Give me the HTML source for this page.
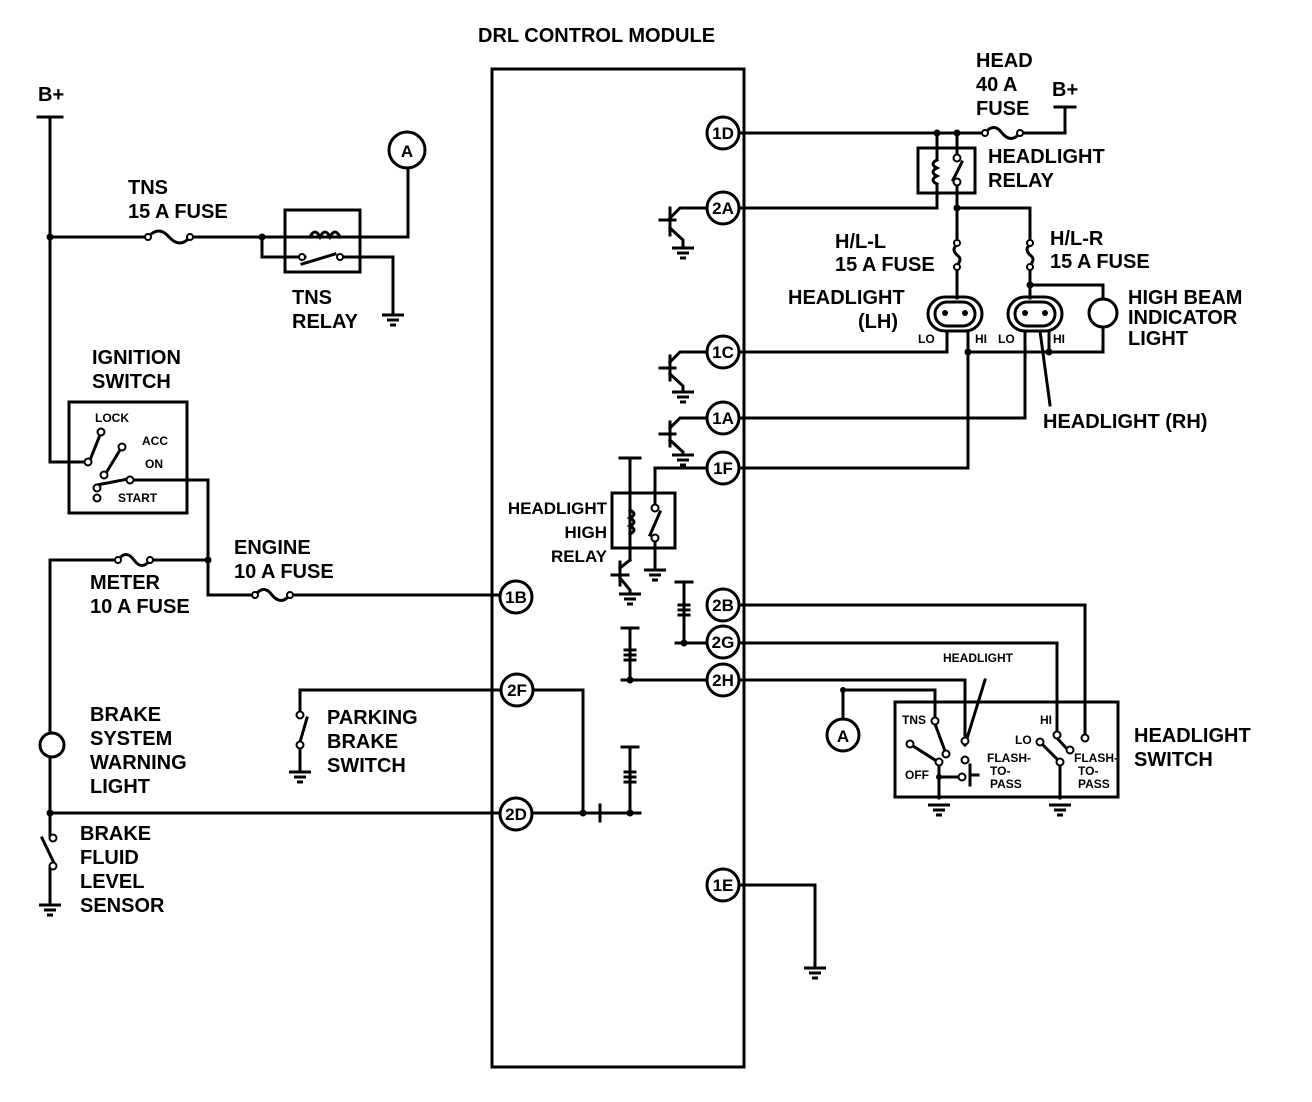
<!DOCTYPE html>
<html><head><meta charset="utf-8"><style>
html,body{margin:0;padding:0;background:#fff}
svg{display:block}
text{font-family:"Liberation Sans",sans-serif;font-weight:bold;fill:#000}
.t{font-size:20px}
.p{font-size:17px}
.s{font-size:12px}
</style></head><body>
<svg width="1312" height="1102" viewBox="0 0 1312 1102" xmlns="http://www.w3.org/2000/svg">
<defs>
<g id="gnd" stroke="#000" stroke-width="3" fill="none"><line x1="-11" y1="0" x2="11" y2="0"/><line x1="-6" y1="5" x2="6" y2="5"/><line x1="-3" y1="10" x2="3" y2="10"/></g>
</defs>
<g stroke="#000" stroke-width="3" fill="none" stroke-linecap="square">
<rect x="492" y="69" width="252" height="998"/>
<line x1="38" y1="117" x2="62" y2="117"/>
<polyline points="50,117 50,462 82,462"/>
<line x1="50" y1="237" x2="148" y2="237"/>
<path d="M148,237 Q159,225 169,237 Q180,249 190,237"/>
<polyline points="190,237 408,237 408,168"/>
<circle cx="407" cy="150" r="18"/>
<rect x="285" y="210" width="75" height="62"/>
<path d="M310,237 q5,-10 10,0 q5,-10 10,0 q5,-10 10,0"/>
<polyline points="262,237 262,257 305,257"/>
<line x1="302" y1="264" x2="335" y2="254"/>
<polyline points="340,257 393,257 393,315"/>
<rect x="69" y="402" width="118" height="111"/>
<line x1="90" y1="460" x2="100" y2="435"/>
<line x1="106" y1="473" x2="120" y2="450"/>
<line x1="97" y1="485" x2="128" y2="479"/>
<polyline points="132,480 208,480 208,595 255,595"/>
<path d="M255,595 Q264,584 272,595 Q281,606 290,595"/>
<line x1="290" y1="595" x2="500" y2="595"/>
<polyline points="208,560 150,560"/>
<path d="M118,560 Q126,549 134,560 Q142,571 150,560"/>
<polyline points="118,560 50,560 50,733"/>
<circle cx="52" cy="745" r="12"/>
<polyline points="50,757 50,835"/>
<line x1="42" y1="838" x2="55" y2="865"/>
<polyline points="53,868 50,868 50,905"/>
<line x1="50" y1="813" x2="500" y2="813"/>
<polyline points="502,690 300,690 300,715"/>
<line x1="307" y1="718" x2="300" y2="742"/>
<line x1="300" y1="745" x2="300" y2="772"/>
<polyline points="534,690 583,690 583,813"/>
<line x1="533" y1="813" x2="640" y2="813"/>
<line x1="600" y1="805" x2="600" y2="821"/>
<line x1="622" y1="747" x2="638" y2="747"/><line x1="630" y1="747" x2="630" y2="813"/>
<path d="M625,772 h10 M625,777 h10 M625,782 h10"/>
<line x1="622" y1="628" x2="638" y2="628"/><line x1="630" y1="628" x2="630" y2="680"/>
<path d="M625,650 h10 M625,655 h10 M625,660 h10"/>
<line x1="622" y1="680" x2="707" y2="680"/>
<line x1="676" y1="582" x2="692" y2="582"/><line x1="684" y1="582" x2="684" y2="643"/>
<path d="M679,605 h10 M679,610 h10 M679,615 h10"/>
<line x1="676" y1="643" x2="707" y2="643"/>
<line x1="620" y1="458" x2="640" y2="458"/>
<line x1="630" y1="458" x2="630" y2="560"/>
<path d="M630,510 q8,4 0,8 q8,4 0,8 q8,4 0,8"/>
<rect x="612" y="493" width="63" height="55"/>
<polyline points="707,468 655,468 655,505"/>
<line x1="660" y1="512" x2="650" y2="535"/>
<line x1="655" y1="538" x2="655" y2="570"/>
<line x1="630" y1="560" x2="620" y2="568"/>
<line x1="612" y1="575" x2="628" y2="575"/><line x1="620" y1="562" x2="620" y2="585"/>
<polyline points="620,578 630,590 630,594"/>
<polyline points="707,208 680,208 670,218"/><line x1="660" y1="220" x2="675" y2="220"/><line x1="670" y1="208" x2="670" y2="235"/><polyline points="670,228 683,240 683,248"/>
<polyline points="707,352 680,352 670,362"/><line x1="660" y1="368" x2="675" y2="368"/><line x1="670" y1="356" x2="670" y2="380"/><polyline points="670,374 683,386 683,392"/>
<polyline points="707,418 680,418 670,428"/><line x1="660" y1="434" x2="675" y2="434"/><line x1="670" y1="422" x2="670" y2="446"/><polyline points="670,440 683,452 683,455"/>
<line x1="742" y1="133" x2="985" y2="133"/>
<path d="M985,133 Q994,122 1002,133 Q1011,144 1020,133"/>
<polyline points="1020,133 1065,133 1065,107"/>
<line x1="1055" y1="107" x2="1075" y2="107"/>
<rect x="918" y="148" width="57" height="45"/>
<line x1="937" y1="133" x2="937" y2="158"/>
<path d="M937,160 q-8,4 0,8 q-8,4 0,8 q-8,4 0,8"/>
<polyline points="937,185 937,208 742,208"/>
<line x1="957" y1="133" x2="957" y2="155"/>
<line x1="962" y1="162" x2="953" y2="180"/>
<polyline points="957,183 957,240"/>
<polyline points="957,208 1030,208 1030,240"/>
<path d="M957,245 q-6,4 0,10 q6,4 0,10"/>
<path d="M1030,245 q-6,4 0,10 q6,4 0,10"/>
<line x1="957" y1="268" x2="957" y2="298"/>
<polyline points="1030,268 1030,285 1103,285 1103,298"/>
<line x1="1030" y1="285" x2="1030" y2="298"/>
<rect x="928" y="297" width="54" height="34" rx="17"/>
<rect x="935" y="302" width="40" height="24" rx="12"/>
<rect x="1008" y="297" width="54" height="34" rx="17"/>
<rect x="1015" y="302" width="40" height="24" rx="12"/>
<circle cx="1103" cy="313" r="14"/>
<polyline points="947,331 947,352 742,352"/>
<polyline points="1025,331 1025,418 742,418"/>
<polyline points="968,331 968,468 742,468"/>
<polyline points="968,352 1103,352 1103,327"/>
<line x1="1049" y1="331" x2="1049" y2="352"/>
<line x1="1040" y1="331" x2="1050" y2="405"/>
<polyline points="742,605 1085,605 1085,735"/>
<polyline points="742,643 1057,643 1057,735"/>
<polyline points="742,680 965,680 965,735"/>
<polyline points="843,717 843,690 935,690 935,718"/>
<circle cx="843" cy="735" r="16"/>
<rect x="895" y="702" width="223" height="95"/>
<line x1="910" y1="744" x2="935" y2="760"/>
<line x1="935" y1="724" x2="945" y2="751"/>
<polyline points="939,763 939,798"/>
<polyline points="939,777 962,777"/>
<line x1="970" y1="765" x2="970" y2="785"/>
<line x1="970" y1="775" x2="978" y2="775"/>
<line x1="965" y1="745" x2="985" y2="680"/>
<line x1="1040" y1="742" x2="1060" y2="762"/>
<line x1="1060" y1="765" x2="1060" y2="798"/>
<line x1="1057" y1="738" x2="1068" y2="750"/>
<polyline points="742,885 815,885 815,968"/>
</g>
<g fill="#fff" stroke="#000" stroke-width="2">
<circle cx="148" cy="237" r="3"/><circle cx="190" cy="237" r="3"/>
<circle cx="255" cy="595" r="3"/><circle cx="290" cy="595" r="3"/>
<circle cx="118" cy="560" r="3"/><circle cx="150" cy="560" r="3"/>
<circle cx="985" cy="133" r="3"/><circle cx="1020" cy="133" r="3"/>
<circle cx="302" cy="257" r="3"/><circle cx="340" cy="257" r="3"/>
<circle cx="88" cy="462" r="3.5"/><circle cx="101" cy="432" r="3.5"/>
<circle cx="104" cy="475" r="3.5"/><circle cx="122" cy="447" r="3.5"/>
<circle cx="97" cy="488" r="3.5"/><circle cx="130" cy="480" r="3.5"/><circle cx="97" cy="498" r="3.5"/>
<circle cx="300" cy="715" r="3.5"/><circle cx="300" cy="745" r="3.5"/>
<circle cx="53" cy="838" r="3.5"/><circle cx="53" cy="866" r="3.5"/>
<circle cx="655" cy="508" r="3.5"/><circle cx="655" cy="538" r="3.5"/>
<circle cx="957" cy="158" r="3.5"/><circle cx="957" cy="182" r="3.5"/>
<circle cx="935" cy="721" r="3.5"/><circle cx="910" cy="744" r="3.5"/><circle cx="939" cy="762" r="3.5"/><circle cx="946" cy="754" r="3.5"/>
<circle cx="965" cy="741" r="3.5"/><circle cx="965" cy="760" r="3.5"/><circle cx="962" cy="777" r="3.5"/>
<circle cx="1040" cy="742" r="3.5"/><circle cx="1060" cy="762" r="3.5"/><circle cx="1057" cy="735" r="3.5"/><circle cx="1070" cy="750" r="3.5"/><circle cx="1085" cy="738" r="3.5"/>
<circle cx="957" cy="243" r="3"/><circle cx="957" cy="267" r="3"/><circle cx="1030" cy="243" r="3"/><circle cx="1030" cy="267" r="3"/>
</g>
<g fill="#000">
<circle cx="50" cy="237" r="3.5"/><circle cx="262" cy="237" r="3.5"/><circle cx="208" cy="560" r="3.5"/>
<circle cx="50" cy="813" r="3.5"/><circle cx="583" cy="813" r="3.5"/><circle cx="630" cy="813" r="3.5"/>
<circle cx="630" cy="680" r="3.5"/><circle cx="684" cy="643" r="3.5"/>
<circle cx="937" cy="133" r="3.5"/><circle cx="957" cy="133" r="3.5"/><circle cx="957" cy="208" r="3.5"/>
<circle cx="1030" cy="285" r="3.5"/><circle cx="968" cy="352" r="3.5"/><circle cx="1049" cy="352" r="3.5"/>
<circle cx="843" cy="690" r="3"/><circle cx="939" cy="777" r="3"/>
<circle cx="945" cy="313" r="3"/><circle cx="965" cy="313" r="3"/><circle cx="1025" cy="313" r="3"/><circle cx="1045" cy="313" r="3"/>
</g>
<use href="#gnd" x="393" y="315"/><use href="#gnd" x="50" y="905"/><use href="#gnd" x="300" y="772"/>
<use href="#gnd" x="683" y="248"/><use href="#gnd" x="683" y="392"/><use href="#gnd" x="683" y="455"/>
<use href="#gnd" x="655" y="570"/><use href="#gnd" x="630" y="594"/>
<use href="#gnd" x="939" y="805"/><use href="#gnd" x="1060" y="805"/><use href="#gnd" x="815" y="968"/>
<g fill="#fff" stroke="#000" stroke-width="3">
<circle cx="723" cy="133" r="16"/><circle cx="723" cy="208" r="16"/><circle cx="723" cy="352" r="16"/>
<circle cx="723" cy="418" r="16"/><circle cx="723" cy="468" r="16"/><circle cx="723" cy="605" r="16"/>
<circle cx="723" cy="642" r="16"/><circle cx="723" cy="680" r="16"/><circle cx="723" cy="885" r="16"/>
<circle cx="516" cy="597" r="16"/><circle cx="517" cy="690" r="16"/><circle cx="516" cy="814" r="16"/>
</g>
<g class="p" text-anchor="middle">
<text x="723" y="139">1D</text><text x="723" y="214">2A</text><text x="723" y="358">1C</text>
<text x="723" y="424">1A</text><text x="723" y="474">1F</text><text x="723" y="611">2B</text>
<text x="723" y="648">2G</text><text x="723" y="686">2H</text><text x="723" y="891">1E</text>
<text x="516" y="603">1B</text><text x="517" y="696">2F</text><text x="516" y="820">2D</text>
<text x="407" y="157">A</text><text x="843" y="742">A</text>
</g>
<g class="t">
<text x="478" y="42">DRL CONTROL MODULE</text>
<text x="38" y="101">B+</text>
<text x="128" y="194">TNS</text><text x="128" y="218">15 A FUSE</text>
<text x="292" y="304">TNS</text><text x="292" y="328">RELAY</text>
<text x="92" y="364">IGNITION</text><text x="92" y="388">SWITCH</text>
<text x="234" y="554">ENGINE</text><text x="234" y="578">10 A FUSE</text>
<text x="90" y="589">METER</text><text x="90" y="613">10 A FUSE</text>
<text x="90" y="721">BRAKE</text><text x="90" y="745">SYSTEM</text><text x="90" y="769">WARNING</text><text x="90" y="793">LIGHT</text>
<text x="80" y="840">BRAKE</text><text x="80" y="864">FLUID</text><text x="80" y="888">LEVEL</text><text x="80" y="912">SENSOR</text>
<text x="327" y="724">PARKING</text><text x="327" y="748">BRAKE</text><text x="327" y="772">SWITCH</text>
<text x="976" y="67">HEAD</text><text x="976" y="91">40 A</text><text x="976" y="115">FUSE</text>
<text x="1052" y="96">B+</text>
<text x="988" y="163">HEADLIGHT</text><text x="988" y="187">RELAY</text>
<text x="835" y="248">H/L-L</text><text x="835" y="271">15 A FUSE</text>
<text x="1050" y="245">H/L-R</text><text x="1050" y="268">15 A FUSE</text>
<text x="788" y="304">HEADLIGHT</text><text x="858" y="328">(LH)</text>
<text x="1128" y="304">HIGH BEAM</text><text x="1128" y="324">INDICATOR</text><text x="1128" y="345">LIGHT</text>
<text x="1043" y="428">HEADLIGHT (RH)</text>
<text x="1134" y="742">HEADLIGHT</text><text x="1134" y="766">SWITCH</text>
</g>
<g style="font-size:17px;font-weight:bold" text-anchor="end">
<text x="607" y="514">HEADLIGHT</text><text x="607" y="538">HIGH</text><text x="607" y="562">RELAY</text>
</g>
<g class="s">
<text x="95" y="422">LOCK</text><text x="142" y="445">ACC</text><text x="145" y="468">ON</text><text x="118" y="502">START</text>
<text x="918" y="343">LO</text><text x="975" y="343">HI</text><text x="998" y="343">LO</text><text x="1053" y="343">HI</text>
<text x="943" y="662">HEADLIGHT</text>
<text x="902" y="724">TNS</text><text x="905" y="779">OFF</text>
<text x="1040" y="724">HI</text><text x="1015" y="744">LO</text>
<text x="987" y="762">FLASH-</text><text x="990" y="775">TO-</text><text x="990" y="788">PASS</text>
<text x="1074" y="762">FLASH-</text><text x="1078" y="775">TO-</text><text x="1078" y="788">PASS</text>
</g>
</svg>
</body></html>
